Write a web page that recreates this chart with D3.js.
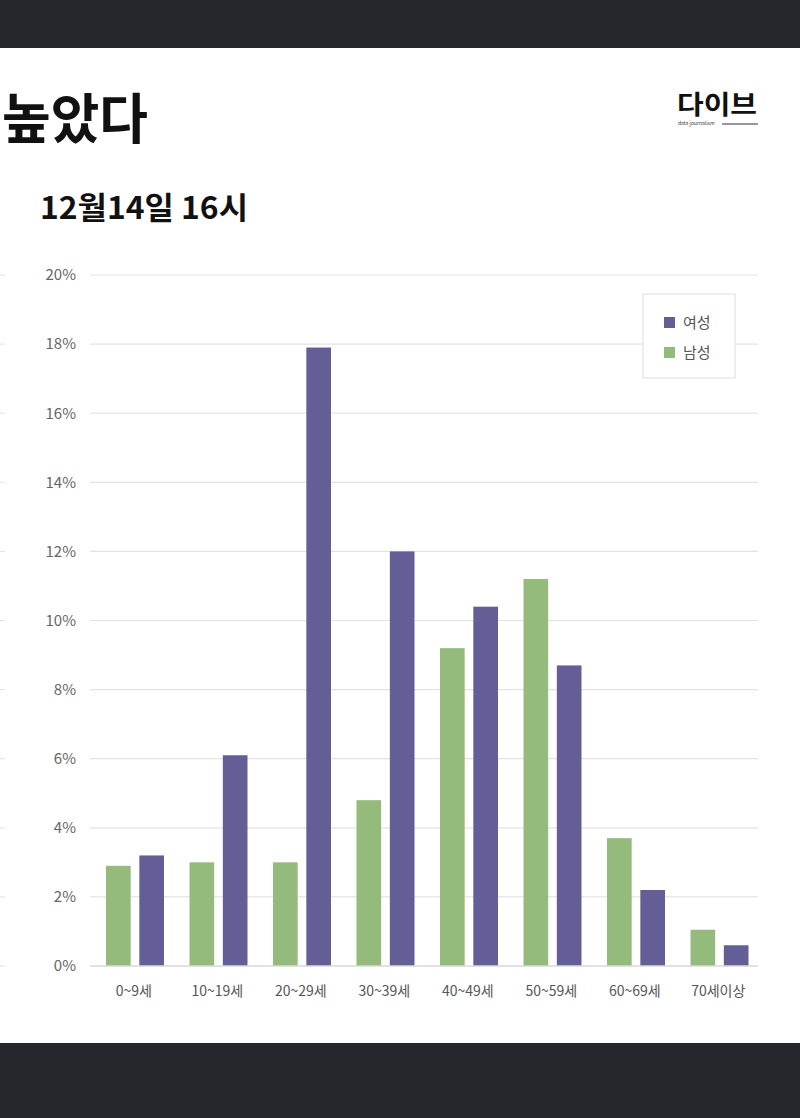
<!DOCTYPE html>
<html><head><meta charset="utf-8">
<script src="https://cdn.jsdelivr.net/npm/d3@7"></script>
<style>body{margin:0;background:#fff}svg{display:block}</style>
</head><body>
<svg id="c" width="800" height="1118"></svg>
<script>
const categories = ["0~9세","10~19세","20~29세","30~39세","40~49세","50~59세","60~69세","70세이상"];
const female = [3.2, 6.1, 17.9, 12.0, 10.4, 8.7, 2.2, 0.6];
const male = [2.9, 3.0, 3.0, 4.8, 9.2, 11.2, 3.7, 1.05];
const series = ["남성","여성"];
const legendLabels = ["여성","남성"];
const yTicks = [0,2,4,6,8,10,12,14,16,18,20];
const colors = {"여성":"#635f96","남성":"#94bb7b"};

const svg = d3.select("#c");
const FONT = "'Noto Sans CJK KR','Noto Sans',sans-serif";

svg.append("rect").attr("x",0).attr("y",0).attr("width",800).attr("height",48).attr("fill","#26272c");
svg.append("rect").attr("x",0).attr("y",1043).attr("width",800).attr("height",75).attr("fill","#26272c");

svg.append("text").attr("x",2).attr("y",139).attr("font-family",FONT).attr("font-weight",700)
  .attr("font-size",54).attr("fill","#111").attr("textLength",146).attr("lengthAdjust","spacingAndGlyphs").text("높았다");
svg.append("text").attr("x",40).attr("y",219).attr("font-family",FONT).attr("font-weight",700)
  .attr("font-size",31).attr("fill","#111").attr("textLength",208).attr("lengthAdjust","spacingAndGlyphs").text("12월14일 16시");
// logo
svg.append("text").attr("x",677).attr("y",114).attr("font-family",FONT).attr("font-weight",700)
  .attr("font-size",26).attr("fill","#111").attr("textLength",80).attr("lengthAdjust","spacingAndGlyphs").text("다이브");
svg.append("text").attr("x",678).attr("y",125).attr("font-family",FONT)
  .attr("font-size",5).attr("fill","#333").text("data journalism");
svg.append("line").attr("x1",722).attr("x2",758).attr("y1",124).attr("y2",124).attr("stroke","#333").attr("stroke-width",1);

const y = d3.scaleLinear().domain([0,20]).range([966,275]);
const x0 = d3.scaleBand().domain(categories).range([92,760]).paddingInner(0).paddingOuter(0);
const x1 = d3.scaleBand().domain(series).range([14,72]).paddingInner(0.26);

// left stubs (neighbouring chart)
yTicks.forEach(t=>{
  svg.append("line").attr("x1",0).attr("x2",5).attr("y1",y(t)).attr("y2",y(t)).attr("stroke","#e2e2e2");
});

const g = svg.append("g");
const yAxis = d3.axisLeft(y).tickValues(yTicks).tickFormat(d=>d+"%").tickSize(0).tickPadding(14);
const ya = g.append("g").attr("transform","translate(90,0)").call(yAxis);
ya.select(".domain").remove();
ya.selectAll("text").attr("font-family",FONT).attr("font-size",15).attr("fill","#666");

g.append("g").selectAll("line").data(yTicks.filter(t=>t>0)).join("line")
  .attr("x1",90).attr("x2",758).attr("y1",d=>y(d)).attr("y2",d=>y(d))
  .attr("stroke","#e3e3e3").attr("stroke-width",1.2);

const rows = categories.map((c,i)=>({c, "여성":female[i], "남성":male[i]}));
const grp = g.append("g").selectAll("g").data(rows).join("g")
  .attr("transform",d=>`translate(${x0(d.c)},0)`);
grp.selectAll("rect").data(d=>series.map(s=>({s,v:d[s]}))).join("rect")
  .attr("x",d=>x1(d.s)).attr("width",x1.bandwidth())
  .attr("y",d=>y(d.v)).attr("height",d=>y(0)-y(d.v)).attr("fill",d=>colors[d.s]);

g.append("line").attr("x1",90).attr("x2",758).attr("y1",y(0)).attr("y2",y(0)).attr("stroke","#d9d9d9").attr("stroke-width",1.5);

const xAxis = d3.axisBottom(x0).tickSize(0).tickPadding(20);
const xa = g.append("g").attr("transform",`translate(0,${y(0)})`).call(xAxis);
xa.select(".domain").remove();
xa.selectAll("text").attr("font-family",FONT).attr("font-size",14).attr("fill","#555");

// legend
const lg = svg.append("g").attr("transform","translate(643,294)");
lg.append("rect").attr("width",92).attr("height",84).attr("fill","#fff").attr("stroke","#ddd");
legendLabels.forEach((s,i)=>{
  lg.append("rect").attr("x",21).attr("y",23+i*30).attr("width",11).attr("height",11).attr("fill",colors[s]);
  lg.append("text").attr("x",40).attr("y",34+i*30).attr("font-family",FONT).attr("font-size",15).attr("fill","#555").text(s);
});
</script>
</body></html>
